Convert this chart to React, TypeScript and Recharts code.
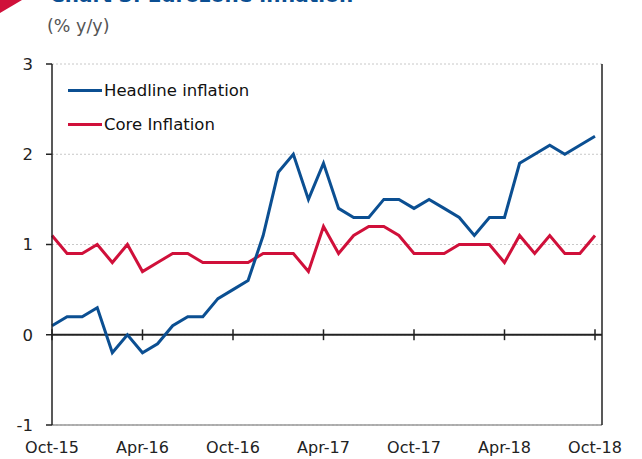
import { LineChart, Line, XAxis, YAxis, CartesianGrid, ReferenceLine } from 'recharts';

const months = [
  'Oct-15', 'Nov-15', 'Dec-15', 'Jan-16', 'Feb-16', 'Mar-16', 'Apr-16', 'May-16', 'Jun-16', 'Jul-16', 'Aug-16', 'Sep-16',
  'Oct-16', 'Nov-16', 'Dec-16', 'Jan-17', 'Feb-17', 'Mar-17', 'Apr-17', 'May-17', 'Jun-17', 'Jul-17', 'Aug-17', 'Sep-17',
  'Oct-17', 'Nov-17', 'Dec-17', 'Jan-18', 'Feb-18', 'Mar-18', 'Apr-18', 'May-18', 'Jun-18', 'Jul-18', 'Aug-18', 'Sep-18',
  'Oct-18',
];

const headline = [
  0.1, 0.2, 0.2, 0.3, -0.2, 0.0, -0.2, -0.1, 0.1, 0.2, 0.2, 0.4,
  0.5, 0.6, 1.1, 1.8, 2.0, 1.5, 1.9, 1.4, 1.3, 1.3, 1.5, 1.5,
  1.4, 1.5, 1.4, 1.3, 1.1, 1.3, 1.3, 1.9, 2.0, 2.1, 2.0, 2.1,
  2.2,
];

const core = [
  1.1, 0.9, 0.9, 1.0, 0.8, 1.0, 0.7, 0.8, 0.9, 0.9, 0.8, 0.8,
  0.8, 0.8, 0.9, 0.9, 0.9, 0.7, 1.2, 0.9, 1.1, 1.2, 1.2, 1.1,
  0.9, 0.9, 0.9, 1.0, 1.0, 1.0, 0.8, 1.1, 0.9, 1.1, 0.9, 0.9,
  1.1,
];

const xTicks = ['Oct-15', 'Apr-16', 'Oct-16', 'Apr-17', 'Oct-17', 'Apr-18', 'Oct-18'];
const yTicks = [-1, 0, 1, 2, 3];

const seriesNames = { headline: 'Headline inflation', core: 'Core Inflation' };

const BLUE = '#0b4f92';
const RED = '#d0103a';
const FONT = '"DejaVu Sans", "Liberation Sans", Arial, sans-serif';
const FS = 16.5;

const data = months.map((m, i) => ({ month: m, headline: headline[i], core: core[i] }));

const XTick = ({ x, y, payload }: any) => (
  <text x={x} y={y} dy={20} textAnchor="middle" fill="#222" fontSize={16} fontFamily={FONT}>
    {payload.value}
  </text>
);

const legendItems = [
  { name: seriesNames.headline, color: BLUE },
  { name: seriesNames.core, color: RED },
];

export default function App() {
  return (
    <div style={{ position: 'fixed', left: 0, top: 0, width: 642, height: 459, background: '#fff', overflow: 'hidden', fontFamily: FONT }}>
      <svg width={30} height={20} style={{ position: 'absolute', left: 0, top: 0 }}>
        <polygon points="0,0 22,0 0,13" fill={RED} />
      </svg>
      <div style={{ position: 'absolute', left: 50, top: -17, fontSize: 20, fontWeight: 'bold', color: BLUE, whiteSpace: 'nowrap' }}>
        Chart 3: Eurozone inflation
      </div>
      <div style={{ position: 'absolute', left: 47, top: 16, fontSize: 17.5, color: '#555' }}>(% y/y)</div>
      <LineChart width={642} height={459} data={data} margin={{ top: 64, right: 0, bottom: 0, left: 0 }}>
        <CartesianGrid yAxisId="left" vertical={false} stroke="#c8c8c8" strokeDasharray="2 2" />
        <XAxis
          dataKey="month"
          ticks={xTicks}
          interval={0}
          height={34}
          padding={{ left: 0, right: 7 }}
          axisLine={{ stroke: '#999', strokeWidth: 1.5 }}
          tickLine={false}
          tick={<XTick />}
        />
        <YAxis
          yAxisId="left"
          domain={[-1, 3]}
          ticks={yTicks}
          width={52}
          axisLine={{ stroke: '#222', strokeWidth: 1.5 }}
          tickLine={{ stroke: '#222', strokeWidth: 1.5 }}
          tickSize={6}
          tickMargin={13}
          tick={{ fill: '#222', fontSize: FS, fontFamily: FONT }}
        />
        <YAxis
          yAxisId="right"
          orientation="right"
          domain={[-1, 3]}
          ticks={yTicks}
          width={40}
          axisLine={{ stroke: '#222', strokeWidth: 1.5 }}
          tickLine={{ stroke: '#222', strokeWidth: 1.5 }}
          tickSize={6}
          tickMargin={10}
          tick={{ fill: '#222', fontSize: FS, fontFamily: FONT }}
        />
        <ReferenceLine yAxisId="left" y={0} stroke="#222" strokeWidth={2} />
        {xTicks.map((t) => (
          <ReferenceLine
            key={t}
            yAxisId="left"
            segment={[{ x: t, y: -0.06 }, { x: t, y: 0.06 }]}
            stroke="#222"
            strokeWidth={1.5}
          />
        ))}
        <Line
          yAxisId="left"
          type="linear"
          dataKey="core"
          name={seriesNames.core}
          stroke={RED}
          strokeWidth={3}
          dot={false}
          isAnimationActive={false}
        />
        <Line
          yAxisId="left"
          type="linear"
          dataKey="headline"
          name={seriesNames.headline}
          stroke={BLUE}
          strokeWidth={3}
          dot={false}
          isAnimationActive={false}
        />
      </LineChart>
      <div style={{ position: 'absolute', left: 68, top: 73, fontSize: FS, color: '#111' }}>
        {legendItems.map((s) => (
          <div key={s.name} style={{ display: 'flex', alignItems: 'center', height: 34 }}>
            <span style={{ display: 'inline-block', width: 34, height: 3, background: s.color, marginRight: 2 }} />
            <span>{s.name}</span>
          </div>
        ))}
      </div>
    </div>
  );
}
